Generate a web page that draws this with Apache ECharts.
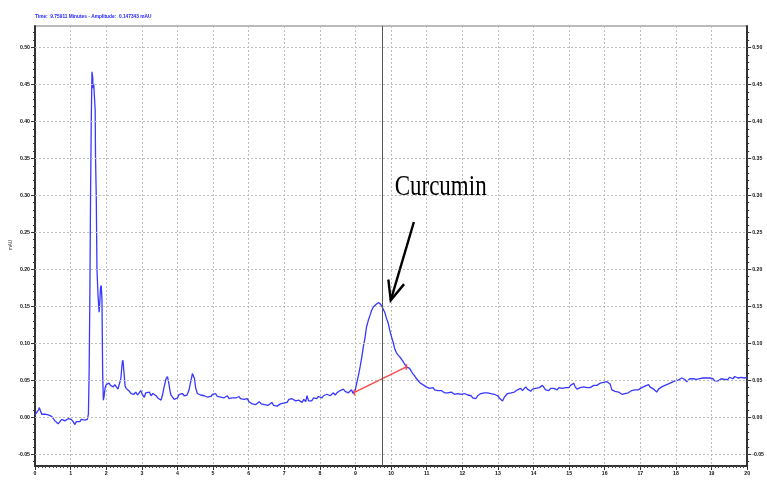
<!DOCTYPE html>
<html>
<head>
<meta charset="utf-8">
<script src="https://cdn.jsdelivr.net/npm/echarts@6/dist/echarts.min.js"></script>
<style>
html,body{margin:0;padding:0;background:#fff;}
#c{width:767px;height:482px;}
</style>
</head>
<body>
<div id="c"></div>
<script>
// ---- data (time in minutes, absorbance in mAU) ----
const timeMin = [
0.00,0.05,0.10,0.12,0.15,0.19,0.23,0.28,0.32,0.37,
0.42,0.47,0.52,0.56,0.60,0.65,0.70,0.75,0.80,0.84,
0.88,0.93,0.98,1.02,1.07,1.12,1.16,1.21,1.26,1.30,
1.35,1.40,1.44,1.47,1.50,1.52,1.54,1.56,1.58,1.60,
1.62,1.63,1.65,1.67,1.69,1.70,1.72,1.74,1.77,1.80,
1.82,1.84,1.86,1.88,1.90,1.92,1.94,1.97,2.00,2.04,
2.08,2.12,2.16,2.20,2.24,2.28,2.33,2.37,2.41,2.45,
2.47,2.50,2.53,2.56,2.60,2.65,2.70,2.74,2.78,2.83,
2.88,2.93,2.97,3.02,3.07,3.11,3.16,3.21,3.26,3.31,
3.36,3.40,3.45,3.50,3.54,3.58,3.63,3.68,3.72,3.75,
3.79,3.82,3.86,3.91,3.96,4.00,4.05,4.10,4.14,4.19,
4.23,4.27,4.32,4.37,4.42,4.45,4.48,4.51,4.56,4.60,
4.65,4.70,4.75,4.80,4.85,4.89,4.94,4.99,5.03,5.07,
5.12,5.17,5.22,5.26,5.30,5.35,5.40,5.45,5.50,5.54,
5.59,5.64,5.68,5.73,5.77,5.82,5.87,5.91,5.96,6.01,
6.05,6.10,6.15,6.20,6.25,6.30,6.35,6.40,6.45,6.50,
6.55,6.60,6.65,6.70,6.75,6.80,6.84,6.89,6.93,6.98,
7.03,7.08,7.13,7.18,7.22,7.27,7.32,7.37,7.41,7.46,
7.50,7.55,7.60,7.64,7.68,7.73,7.77,7.82,7.86,7.91,
7.96,8.01,8.06,8.10,8.15,8.20,8.24,8.29,8.34,8.38,
8.43,8.48,8.52,8.57,8.62,8.66,8.71,8.76,8.80,8.85,
8.89,8.93,8.97,9.00,9.03,9.08,9.13,9.18,9.22,9.27,
9.31,9.36,9.41,9.45,9.50,9.55,9.59,9.63,9.66,9.70,
9.73,9.78,9.82,9.87,9.92,9.96,10.01,10.06,10.10,10.15,
10.20,10.27,10.34,10.39,10.43,10.47,10.52,10.57,10.61,10.66,
10.70,10.75,10.80,10.85,10.89,10.94,10.99,11.04,11.08,11.13,
11.18,11.22,11.27,11.31,11.36,11.41,11.45,11.50,11.55,11.59,
11.64,11.69,11.73,11.78,11.83,11.87,11.92,11.97,12.01,12.06,
12.10,12.15,12.20,12.25,12.29,12.34,12.38,12.43,12.48,12.52,
12.57,12.62,12.66,12.71,12.76,12.80,12.85,12.90,12.94,12.99,
13.04,13.08,13.13,13.18,13.22,13.27,13.32,13.37,13.41,13.46,
13.50,13.55,13.60,13.64,13.69,13.73,13.78,13.83,13.87,13.92,
13.97,14.01,14.06,14.11,14.16,14.20,14.25,14.29,14.34,14.39,
14.43,14.48,14.53,14.57,14.62,14.66,14.71,14.76,14.80,14.85,
14.90,14.94,14.99,15.04,15.08,15.13,15.17,15.22,15.27,15.31,
15.36,15.41,15.46,15.50,15.55,15.59,15.64,15.69,15.73,15.78,
15.83,15.87,15.92,15.97,16.01,16.06,16.11,16.15,16.20,16.25,
16.29,16.34,16.39,16.43,16.48,16.53,16.57,16.62,16.66,16.71,
16.76,16.80,16.85,16.90,16.94,16.99,17.04,17.08,17.13,17.18,
17.23,17.27,17.32,17.37,17.41,17.46,17.51,17.55,17.60,17.65,
17.69,17.74,17.79,17.83,17.88,17.92,17.97,18.02,18.06,18.11,
18.16,18.20,18.25,18.30,18.34,18.39,18.44,18.48,18.53,18.58,
18.62,18.67,18.72,18.76,18.81,18.86,18.90,18.95,18.99,19.04,
19.09,19.13,19.18,19.23,19.27,19.32,19.37,19.41,19.46,19.50,
19.55,19.60,19.65,19.69,19.74,19.78,19.83,19.88,19.92,19.97,
20.00
];
const absorbance = [
0.003,0.004,0.010,0.013,0.009,0.004,0.006,0.004,0.005,0.003,
0.004,0.001,-0.001,-0.005,-0.004,-0.009,-0.007,-0.003,-0.002,-0.005,
-0.003,-0.002,-0.004,-0.003,-0.006,-0.010,-0.006,-0.004,-0.006,-0.003,
-0.005,-0.004,-0.006,-0.003,0.004,0.060,0.158,0.300,0.400,0.467,
0.460,0.445,0.450,0.449,0.415,0.350,0.300,0.200,0.165,0.142,
0.155,0.175,0.178,0.160,0.060,0.023,0.028,0.040,0.044,0.042,
0.046,0.043,0.045,0.041,0.044,0.042,0.038,0.040,0.052,0.074,
0.077,0.060,0.042,0.039,0.040,0.035,0.032,0.033,0.031,0.034,
0.030,0.032,0.036,0.030,0.027,0.033,0.031,0.034,0.029,0.032,
0.030,0.029,0.026,0.024,0.023,0.030,0.042,0.052,0.055,0.048,
0.036,0.030,0.028,0.024,0.023,0.026,0.031,0.033,0.032,0.029,
0.028,0.030,0.036,0.047,0.059,0.061,0.052,0.040,0.032,0.033,
0.030,0.031,0.029,0.030,0.027,0.029,0.028,0.031,0.033,0.032,
0.028,0.030,0.027,0.029,0.026,0.027,0.029,0.025,0.027,0.026,
0.028,0.026,0.027,0.028,0.025,0.027,0.024,0.023,0.025,0.021,
0.019,0.018,0.020,0.017,0.019,0.021,0.018,0.020,0.017,0.019,
0.016,0.018,0.020,0.016,0.018,0.015,0.016,0.018,0.016,0.019,
0.018,0.020,0.024,0.022,0.025,0.023,0.022,0.021,0.023,0.021,
0.020,0.024,0.021,0.029,0.022,0.021,0.022,0.026,0.027,0.025,
0.028,0.029,0.026,0.029,0.028,0.031,0.032,0.029,0.031,0.033,
0.030,0.033,0.031,0.036,0.034,0.038,0.035,0.036,0.033,0.034,
0.037,0.032,0.032,0.038,0.045,0.056,0.068,0.082,0.095,0.108,
0.122,0.131,0.138,0.144,0.149,0.151,0.153,0.152,0.155,0.153,
0.151,0.146,0.142,0.134,0.127,0.118,0.109,0.101,0.093,0.087,
0.084,0.080,0.075,0.071,0.068,0.069,0.066,0.062,0.059,0.056,
0.053,0.050,0.047,0.048,0.044,0.043,0.041,0.042,0.039,0.039,
0.040,0.037,0.036,0.036,0.035,0.036,0.034,0.033,0.034,0.033,
0.032,0.034,0.032,0.031,0.033,0.032,0.030,0.031,0.030,0.032,
0.030,0.030,0.028,0.029,0.026,0.027,0.025,0.029,0.031,0.032,
0.030,0.033,0.032,0.033,0.031,0.032,0.033,0.031,0.030,0.029,
0.026,0.025,0.022,0.027,0.029,0.032,0.030,0.033,0.032,0.034,
0.033,0.037,0.035,0.039,0.036,0.038,0.041,0.038,0.036,0.035,
0.038,0.036,0.039,0.037,0.040,0.039,0.043,0.041,0.037,0.038,
0.036,0.039,0.037,0.039,0.038,0.037,0.040,0.038,0.039,0.041,
0.040,0.042,0.040,0.043,0.045,0.046,0.041,0.038,0.037,0.040,
0.039,0.041,0.039,0.040,0.042,0.040,0.041,0.043,0.044,0.043,
0.045,0.046,0.048,0.047,0.049,0.048,0.047,0.045,0.037,0.036,
0.035,0.035,0.034,0.033,0.031,0.030,0.032,0.030,0.033,0.035,
0.036,0.035,0.037,0.038,0.037,0.038,0.040,0.041,0.042,0.043,
0.044,0.041,0.040,0.038,0.036,0.034,0.038,0.040,0.041,0.040,
0.043,0.044,0.045,0.046,0.047,0.048,0.049,0.048,0.050,0.052,
0.053,0.055,0.051,0.048,0.050,0.052,0.051,0.052,0.050,0.051,
0.050,0.052,0.051,0.053,0.054,0.053,0.051,0.053,0.055,0.052,
0.049,0.050,0.049,0.051,0.052,0.050,0.051,0.053,0.051,0.054,
0.053,0.052,0.055,0.054,0.053,0.054,0.054,0.053,0.053,0.054,
0.054
];
// integration baseline for the curcumin peak [time, mAU]
const baselineTime = [8.97, 8.97, 8.97, 10.43, 10.43, 10.43];
const baselineValue = [0.0295, 0.0375, 0.0335, 0.068, 0.072, 0.064];
// cursor position
const cursorTime = [9.75911];
// axis ticks
const xTickLabels = [0,1,2,3,4,5,6,7,8,9,10,11,12,13,14,15,16,17,18,19,20];
const yTickLabels = [-0.05,0.00,0.05,0.10,0.15,0.20,0.25,0.30,0.35,0.40,0.45,0.50];
const yMinorTicks = [-0.06,-0.05,-0.04,-0.03,-0.02,-0.01,0.00,0.01,0.02,0.03,0.04,0.05,0.06,0.07,0.08,0.09,
0.10,0.11,0.12,0.13,0.14,0.15,0.16,0.17,0.18,0.19,0.20,0.21,0.22,0.23,0.24,0.25,0.26,0.27,0.28,0.29,
0.30,0.31,0.32,0.33,0.34,0.35,0.36,0.37,0.38,0.39,0.40,0.41,0.42,0.43,0.44,0.45,0.46,0.47,0.48,0.49,
0.50,0.51,0.52];
// annotation anchors (data coordinates)
const labelText = 'Curcumin';
const labelAnchor = [10.10, 0.311];
const arrowTail = [10.64, 0.264];
const arrowTip = [9.99, 0.158];
const headerText = 'Time:  9.75911 Minutes - Amplitude:  0.147343 mAU';
const yName = 'mAU';

const Y_MIN = -0.066, Y_MAX = 0.529;
const GRID_COLOR = '#bcbcbc';
const lblFont = {fontSize: 5.2, fontWeight: 'bold', fontFamily: 'Liberation Sans, Arial, sans-serif', color: '#111'};

const n = Math.min(timeMin.length, absorbance.length);
const trace = [];
for (let i = 0; i < n; i++) trace.push([timeMin[i], absorbance[i]]);
const baseline = baselineTime.map((t, i) => [t, baselineValue[i]]);

function yAxisDef(pos, major) {
  return {
    type: 'value', position: pos, min: Y_MIN, max: Y_MAX,
    axisLine: {show: !major, lineStyle: {color: '#333', width: 2}},
    axisTick: {show: true, inside: false, length: major ? 4 : 2, customValues: major ? yTickLabels : yMinorTicks,
      lineStyle: {color: '#333', width: 1}},
    axisLabel: major ? {show: false} : Object.assign({show: true, customValues: yTickLabels, margin: 5,
      formatter: v => v.toFixed(2)}, lblFont),
    splitLine: {show: false}
  };
}

const chart = echarts.init(document.getElementById('c'), null, {renderer: 'canvas'});
const option = {
  animation: false,
  backgroundColor: '#fff',
  grid: {left: 35, right: 16, top: 26, bottom: 16, show: true, borderColor: '#777', borderWidth: 1, backgroundColor: '#fff'},
  xAxis: {
    type: 'value', min: xTickLabels[0], max: xTickLabels[xTickLabels.length - 1], interval: 1,
    axisLine: {onZero: false, lineStyle: {color: '#333', width: 2}},
    axisTick: {show: true, length: 4, lineStyle: {color: '#333'}},
    minorTick: {show: true, splitNumber: 10, length: 2, lineStyle: {color: '#444'}},
    axisLabel: Object.assign({margin: 5, formatter: v => String(v)}, lblFont),
    splitLine: {show: true, lineStyle: {color: GRID_COLOR, type: [2, 2], width: 1}}
  },
  yAxis: [yAxisDef('left', false), yAxisDef('left', true), yAxisDef('right', false), yAxisDef('right', true)],
  series: [
    {
      type: 'line', data: trace, showSymbol: false, symbol: 'none', silent: true, z: 3,
      lineStyle: {color: '#3838ff', width: 1.3},
      markLine: {
        silent: true, symbol: 'none', animation: false, label: {show: false},
        data: yTickLabels.map(v => ({yAxis: v, lineStyle: {color: GRID_COLOR, type: [2, 2], width: 1}}))
          .concat(cursorTime.map(t => ({xAxis: t, lineStyle: {color: '#555', type: 'solid', width: 1}})))
      }
    },
    {
      type: 'line', data: baseline, showSymbol: false, symbol: 'none', silent: true, z: 4,
      lineStyle: {color: '#ff4a4a', width: 1.5}
    }
  ]
};
chart.setOption(option);

const px = d => chart.convertToPixel({xAxisIndex: 0, yAxisIndex: 0}, d);
const tip = px(arrowTip), tail = px(arrowTail), lab = px(labelAnchor);
const ang = Math.atan2(tail[1] - tip[1], tail[0] - tip[0]);
const armLen = 21, spread = 23 * Math.PI / 180;
const armA = [tip[0] + armLen * Math.cos(ang - spread), tip[1] + armLen * Math.sin(ang - spread)];
const armB = [tip[0] + armLen * Math.cos(ang + spread), tip[1] + armLen * Math.sin(ang + spread)];

chart.setOption({
  graphic: [
    {type: 'text', x: 35, y: 17, style: {text: headerText, fontSize: 4.8, fontWeight: 'bold',
      fontFamily: 'Liberation Sans, Arial, sans-serif', fill: '#2323ff', textVerticalAlign: 'middle'}},
    {type: 'text', x: 11, y: 245, rotation: Math.PI / 2, style: {text: yName, fontSize: 4.5,
      fontFamily: 'Liberation Sans, Arial, sans-serif', fill: '#333', textAlign: 'center', textVerticalAlign: 'middle'}},
    {type: 'text', x: lab[0], y: lab[1], scaleY: 1.3, z: 10, style: {text: labelText, fontSize: 23,
      fontFamily: 'Liberation Serif, Times New Roman, serif', fill: '#000', textAlign: 'left', textVerticalAlign: 'middle'}},
    {type: 'line', z: 10, shape: {x1: tail[0], y1: tail[1], x2: tip[0], y2: tip[1]}, style: {stroke: '#000', lineWidth: 2.4}},
    {type: 'polyline', z: 10, shape: {points: [armA, tip, armB]}, style: {stroke: '#000', lineWidth: 2.4, fill: null, lineJoin: 'miter'}}
  ]
});
</script>
</body>
</html>
